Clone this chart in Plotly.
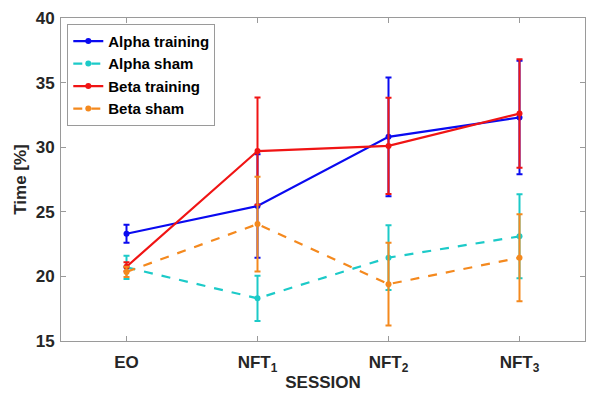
import plotly.graph_objects as go

sessions = ["EO", "NFT<sub>1</sub>", "NFT<sub>2</sub>", "NFT<sub>3</sub>"]
x_pos = [0, 1, 2, 3]

alpha_training = [23.3, 25.45, 30.8, 32.3]
alpha_training_err = [0.7, 4.0, 4.6, 4.4]
alpha_sham = [20.7, 18.3, 21.45, 23.1]
alpha_sham_err = [0.9, 1.75, 2.5, 3.25]
beta_training = [20.75, 29.7, 30.1, 32.6]
beta_training_err = [0.35, 4.15, 3.72, 4.2]
beta_sham = [20.35, 24.05, 19.4, 21.45]
beta_sham_err = [0.4, 3.67, 3.2, 3.37]

series = [
    ("Alpha training", alpha_training, alpha_training_err, "#0A0AF0", "solid"),
    ("Alpha sham", alpha_sham, alpha_sham_err, "#1CCAC8", "dash"),
    ("Beta training", beta_training, beta_training_err, "#F01414", "solid"),
    ("Beta sham", beta_sham, beta_sham_err, "#F4891E", "dash"),
]

fig = go.Figure()
for name, vals, errs, color, dash in series:
    fig.add_trace(go.Scatter(
        x=x_pos, y=vals, name=name, mode="lines+markers",
        line=dict(color=color, width=2.2, dash=dash),
        marker=dict(color=color, size=6),
        error_y=dict(type="data", array=errs, visible=True,
                     color=color, thickness=2, width=3),
    ))

bold16 = dict(family="Liberation Sans", size=17, color="#262626", weight="bold")
bold17 = dict(family="Liberation Sans", size=17, color="#262626", weight="bold")

axis_common = dict(
    showline=True, linecolor="#9a9a9a", linewidth=1, mirror="ticks",
    ticks="inside", ticklen=5, tickcolor="#9a9a9a", showgrid=False,
    zeroline=False,
)

fig.update_layout(
    width=590, height=395,
    margin=dict(l=61, r=5, t=18, b=54),
    paper_bgcolor="white", plot_bgcolor="white",
    font=dict(family="Liberation Sans", color="#262626"),
    showlegend=True,
    legend=dict(
        x=0.012, y=0.982, xanchor="left", yanchor="top",
        bgcolor="white", bordercolor="#9a9a9a", borderwidth=1,
        font=dict(family="Liberation Sans", size=15, color="black", weight="bold"),
        tracegroupgap=0, itemwidth=30,
    ),
    xaxis=dict(
        axis_common, tickmode="array", tickvals=x_pos, ticktext=sessions,
        range=[-0.5, 3.5], tickfont=bold16, ticklabelstandoff=6,
        title=dict(text="SESSION", standoff=2, font=bold17),
    ),
    yaxis=dict(
        axis_common, range=[15, 40], tickvals=[15, 20, 25, 30, 35, 40],
        tickfont=bold16, ticklabelstandoff=2,
        title=dict(text="Time [%]", standoff=4, font=bold17),
    ),
)

fig.write_html("out.html")
